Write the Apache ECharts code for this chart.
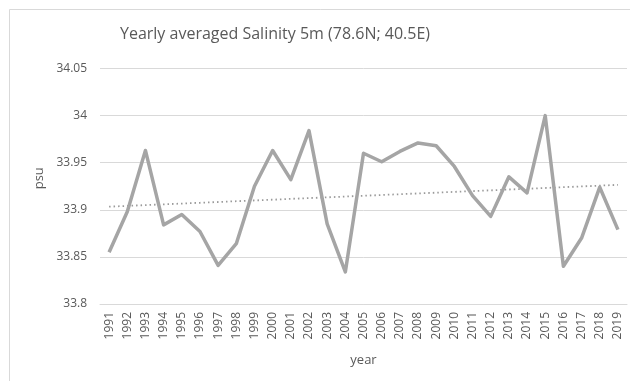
<!DOCTYPE html>
<html>
<head>
<meta charset="utf-8">
<style>
  html, body { margin: 0; padding: 0; background: #fff; }
  #chart { width: 630px; height: 381px; }
</style>
<script src="https://cdn.jsdelivr.net/npm/echarts@6/dist/echarts.min.js"></script>
</head>
<body>
<div id="chart"></div>
<script>
// Yearly averaged salinity at 5 m depth
const years = [
  '1991','1992','1993','1994','1995','1996','1997','1998','1999','2000',
  '2001','2002','2003','2004','2005','2006','2007','2008','2009','2010',
  '2011','2012','2013','2014','2015','2016','2017','2018','2019'
];
const salinity = [
  33.855, 33.898, 33.963, 33.884, 33.895, 33.877, 33.841, 33.864, 33.925, 33.963,
  33.932, 33.984, 33.885, 33.834, 33.960, 33.951, 33.962, 33.971, 33.968, 33.946,
  33.915, 33.893, 33.935, 33.918, 34.000, 33.840, 33.870, 33.924, 33.879
];
const yTicks = [33.8, 33.85, 33.9, 33.95, 34, 34.05];

// Least-squares linear trend over the yearly values
function linearTrend(vals) {
  const n = vals.length;
  let sx = 0, sy = 0, sxx = 0, sxy = 0;
  vals.forEach((v, i) => { sx += i; sy += v; sxx += i * i; sxy += i * v; });
  const b = (n * sxy - sx * sy) / (n * sxx - sx * sx);
  const a = (sy - b * sx) / n;
  return vals.map((_, i) => a + b * i);
}
const trend = linearTrend(salinity);

const FONT = 'Open Sans';
const TEXT = '#595959';
const GRID = '#d9d9d9';

const chart = echarts.init(document.getElementById('chart'), null, { renderer: 'canvas' });
chart.setOption({
  animation: false,
  backgroundColor: '#ffffff',
  graphic: [{
    type: 'rect',
    shape: { x: 9.5, y: 9.5, width: 640, height: 400 },
    style: { fill: 'none', stroke: GRID, lineWidth: 1 },
    silent: true
  }],
  title: {
    text: 'Yearly averaged Salinity 5m (78.6N; 40.5E)',
    left: 270,
    top: 21,
    textAlign: 'center',
    textStyle: { fontFamily: FONT, fontSize: 16, fontWeight: 'normal', color: TEXT }
  },
  grid: { left: 100, right: 3, top: 68.5, bottom: 77, containLabel: false },
  xAxis: {
    type: 'category',
    data: years,
    boundaryGap: true,
    name: 'year',
    nameLocation: 'middle',
    nameGap: 50,
    nameTextStyle: { fontFamily: FONT, fontSize: 13, color: TEXT },
    axisLine: { show: true, lineStyle: { color: GRID, width: 1 } },
    axisTick: { show: false },
    axisLabel: {
      rotate: 90, interval: 0, margin: 8,
      fontFamily: FONT, fontSize: 12, color: TEXT
    },
    splitLine: { show: false }
  },
  yAxis: {
    type: 'value',
    min: 33.8,
    max: 34.05,
    interval: 0.05,
    name: 'psu',
    nameLocation: 'middle',
    nameGap: 50,
    nameRotate: 90,
    nameTextStyle: { fontFamily: FONT, fontSize: 13, color: TEXT, padding: [0, 0, 0, 16] },
    axisLine: { show: false },
    axisTick: { show: false },
    axisLabel: {
      margin: 13,
      fontFamily: FONT, fontSize: 12, color: TEXT,
      formatter: v => {
        const hit = yTicks.find(t => Math.abs(t - v) < 1e-6);
        return hit === undefined ? '' : String(hit);
      }
    },
    splitLine: { show: true, lineStyle: { color: GRID, width: 1 } }
  },
  series: [
    {
      name: 'Salinity',
      type: 'line',
      data: salinity,
      symbol: 'none',
      lineStyle: { color: '#a5a5a5', width: 3.5, join: 'round' },
      z: 3
    },
    {
      name: 'Trend',
      type: 'line',
      data: trend,
      symbol: 'none',
      lineStyle: { color: '#9a9a9a', width: 1.8, type: [1.5, 3] },
      z: 2
    }
  ]
});
</script>
</body>
</html>
